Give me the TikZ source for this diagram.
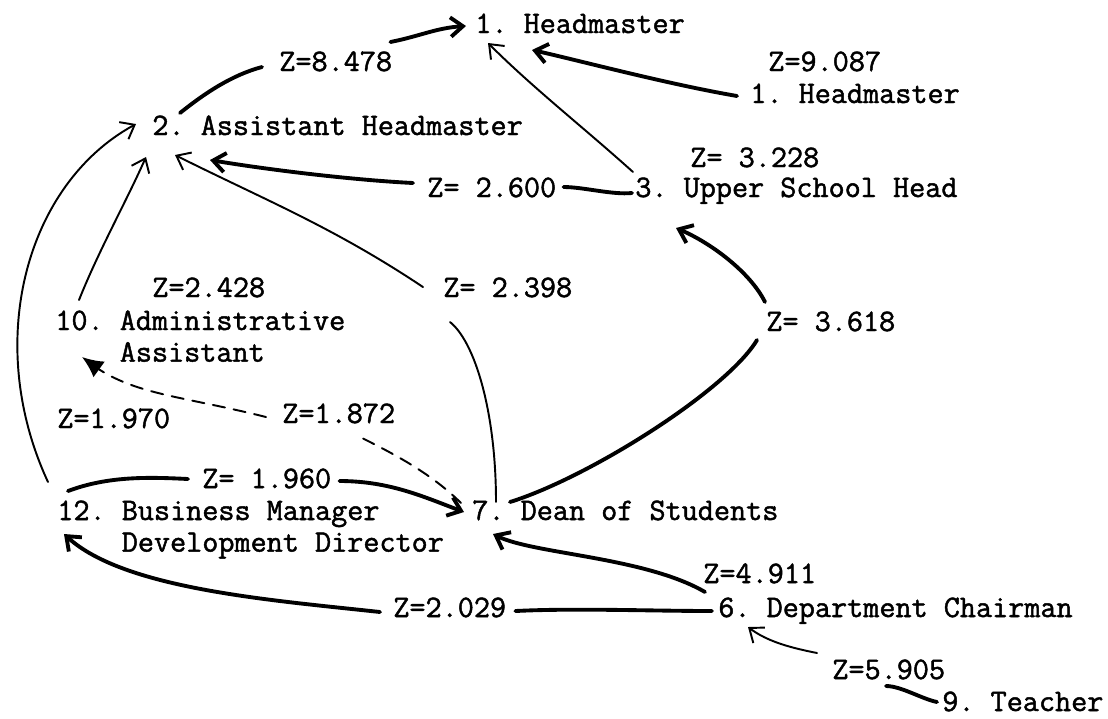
\documentclass[tikz,border=0pt]{standalone}
\usepackage{fontspec}
\setmonofont{Latin Modern Mono}[FakeBold=1.5]
\usetikzlibrary{arrows.meta}
\tikzset{lbl/.style={anchor=base west, inner sep=0pt, font=\fontsize{17.8}{18}\selectfont\ttfamily},
light/.style={line width=1.1pt},
heavy/.style={line width=2.2pt},
blob/.style={-{Latex[length=12pt,width=11pt]}},
>={Straight Barb[length=7pt,width=11pt]}}
\newcommand{\twoline}[2]{\begin{tabular}[t]{@{}l@{}}#1\\#2\end{tabular}}

\begin{document}
\begin{tikzpicture}[x=0.02cm, y=-0.02cm, line cap=round]
\useasboundingbox (0,0) rectangle (1108,718);

% positions
\node[lbl] (hm) at (475,33) {1. Headmaster};
\node[lbl] (hmb) at (750,103) {1. Headmaster};
\node[lbl] (ah) at (152,135) {2. Assistant Headmaster};
\node[lbl] (ush) at (635,197) {3. Upper School Head};
\node[lbl] (aa) at (55,330) {\twoline{10. Administrative}{\hphantom{10. }Assistant}};
\node[lbl] (bm) at (57,520) {\twoline{12. Business Manager}{\hphantom{12. }Development Director}};
\node[lbl] (ds) at (472,520) {7. Dean of Students};
\node[lbl] (dc) at (718,617) {6. Department Chairman};
\node[lbl] (te) at (942,711) {9. Teacher};

% z values
\foreach \n/\x/\y/\t in {z8478/279/71/Z=8.478, z9087/768/71/Z=9.087, z3228/690/167/Z= 3.228,
  z2600/427/197/Z= 2.600, z2428/152/297/Z=2.428, z2398/443/297/Z= 2.398, z3618/766/331/Z= 3.618,
  z1970/57/428/Z=1.970, z1872/282/423/Z=1.872, z1960/202/488/Z= 1.960, z4911/703/583/Z=4.911,
  z2029/393/617/Z=2.029, z5905/832/679/Z=5.905}
  {\node[lbl] (\n) at (\x,\y) {\t};}

% links
\draw[heavy] ([shift={(28,-22)}]ah.base west) .. controls +(25,-20) and +(-30,8) .. ([shift={(-17,-4)}]z8478.base west);
\draw[heavy,->] ([shift={(-2,-29)}]z8478.base east) .. controls +(30,-6) and +(-30,2) .. ([shift={(-9,-7)}]hm.base west);
\draw[heavy,->] ([shift={(-13,-7)}]hmb.base west) .. controls +(-70,-12) and +(45,10) .. ([shift={(57,17)}]hm.base west);
\draw[light,->] ([shift={(-2,-25)}]ush.base west) .. controls +(-50,-45) and +(45,45) .. ([shift={(13,10)}]hm.base west);
\draw[heavy,->] ([shift={(-14,-14)}]z2600.base west) .. controls +(-60,-3) and +(60,10) .. ([shift={(58,25)}]ah.base west);
\draw[heavy] ([shift={(-3,-4)}]ush.base west) .. controls +(-20,2) and +(20,0) .. ([shift={(7,-10)}]z2600.base east);
\draw[light,->] ([shift={(-20,-10)}]z2398.base west) .. controls +(-90,-60) and +(90,45) .. ([shift={(23,20)}]ah.base west);
\draw[light] ([shift={(24,-18)}]ds.base west) .. controls +(0,-90) and +(25,20) .. ([shift={(7,25)}]z2398.base west);
\draw[light,->] ([shift={(24,-30)}]aa.base west) .. controls +(20,-50) and +(-20,45) .. ([shift={(-6,22)}]ah.base west);
\draw[light,->] ([shift={(-9,-38)}]bm.base west) .. controls +(-65,-140) and +(-110,60) .. ([shift={(-16,-11)}]ah.base west);
\draw[heavy] ([shift={(11,-29)}]bm.base west) .. controls +(40,-15) and +(-40,-2) .. ([shift={(-14,-9)}]z1960.base west);
\draw[heavy,->] ([shift={(8,-7)}]z1960.base east) .. controls +(50,0) and +(-40,-15) .. ([shift={(-8,-8)}]ds.base west);
% dashed tie 7 -> 10
\draw[light,dash pattern=on 7pt off 5pt] ([shift={(-11,-17)}]ds.base west) .. controls +(-30,-30) and +(30,15) .. ([shift={(80,15)}]z1872.base west);
\draw[light,dash pattern=on 7pt off 5pt] ([shift={(-16,-6)}]z1872.base west) .. controls +(-80,-20) and +(40,25) .. ([shift={(45,40)}]aa.base west);
\draw[light,blob] ([shift={(45,40)}]aa.base west) -- ([shift={(27,27)}]aa.base west);
\draw[heavy] ([shift={(38,-18)}]ds.base west) .. controls +(80,-25) and +(-30,50) .. ([shift={(-9,9)}]z3618.base west);
\draw[heavy,->] ([shift={(-1,-29)}]z3618.base west) .. controls +(-15,-30) and +(35,15) .. ([shift={(41,31)}]ush.base west);
\draw[heavy,->] ([shift={(2,9)}]z4911.base west) .. controls +(-60,-35) and +(40,20) .. ([shift={(21,14)}]ds.base west);
\draw[heavy] ([shift={(-6,-6)}]dc.base west) .. controls +(-60,0) and +(60,-3) .. ([shift={(9,-6)}]z2029.base east);
\draw[heavy,->] ([shift={(-13,-5)}]z2029.base west) .. controls +(-110,-12) and +(60,55) .. ([shift={(7,14)}]bm.base west);
\draw[light,->] ([shift={(-15,-26)}]z5905.base west) .. controls +(-25,-5) and +(20,15) .. ([shift={(30,10)}]dc.base west);
\draw[heavy] ([shift={(-5,-9)}]te.base west) .. controls +(-15,-3) and +(15,0) .. ([shift={(54,7)}]z5905.base west);

\end{tikzpicture}
\end{document}
